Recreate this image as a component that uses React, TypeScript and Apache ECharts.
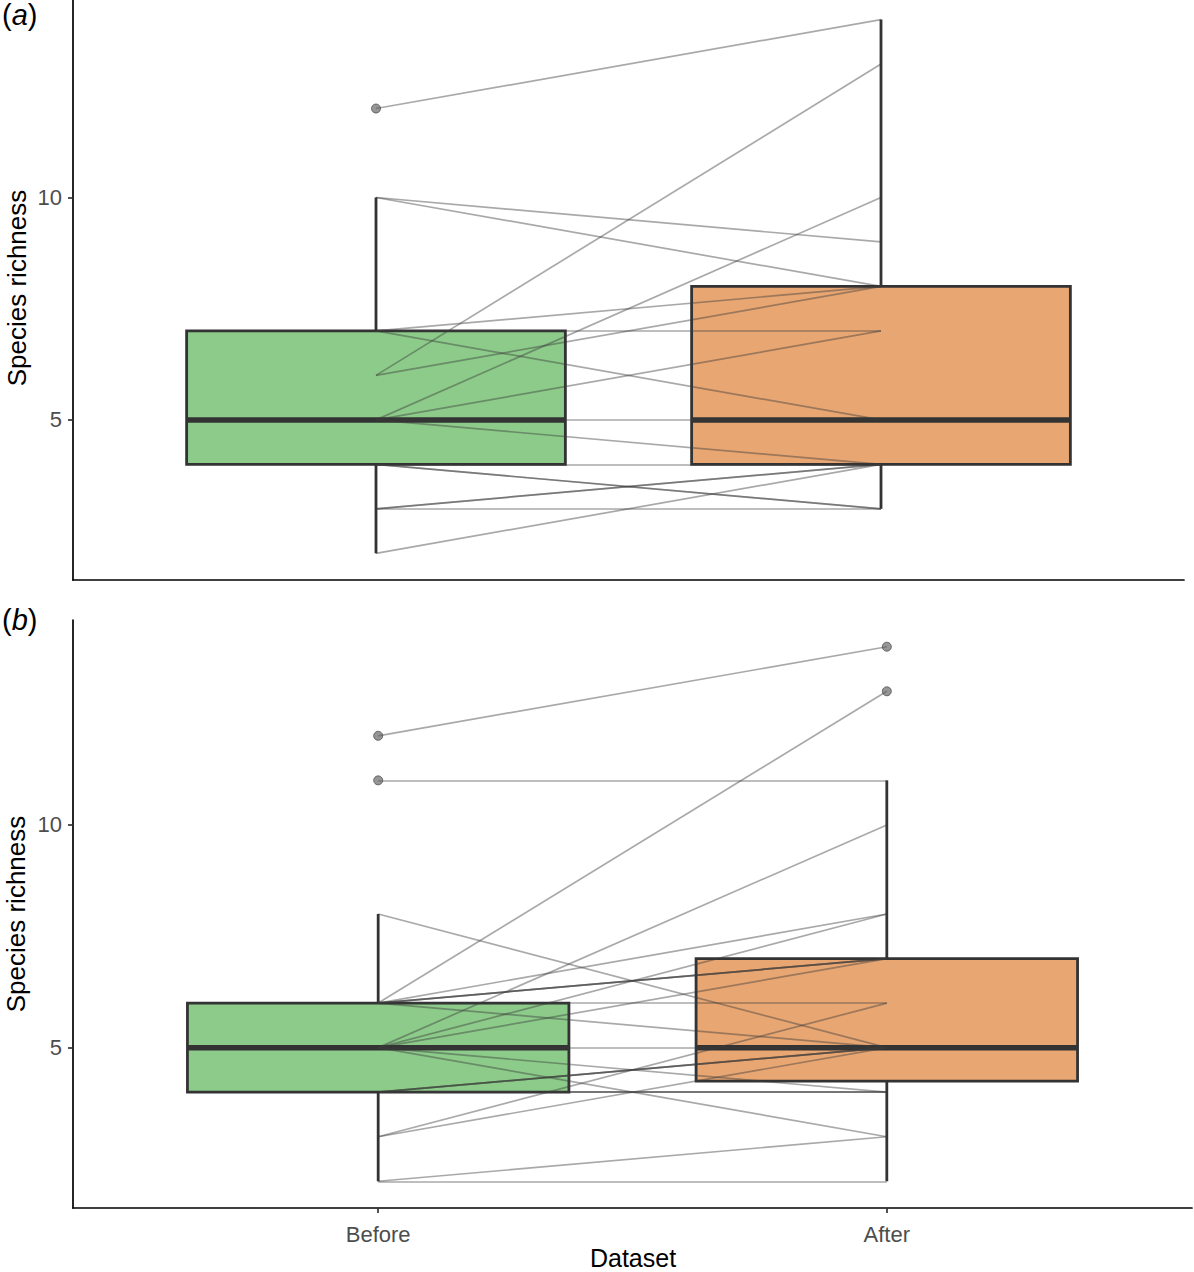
import React, { useEffect, useRef } from "react";
import * as echarts from "echarts";

// ---------- data ----------
const categories = ["Before", "After"];
const yTickValues = [5, 10];
const boxFills = ["#8CCB89", "#E8A672"];

// panel (a): paired species richness, Before -> After
const beforeA = [12, 10, 10, 7, 7, 7, 6, 6, 5, 5, 5, 5, 4, 4, 4, 3, 3, 3, 2];
const afterA = [14, 9, 8, 8, 7, 5, 13, 8, 10, 7, 5, 4, 4, 3, 3, 4, 4, 3, 4];

// panel (b)
const beforeB = [12, 11, 8, 6, 6, 6, 6, 6, 6, 6, 5, 5, 5, 5, 5, 5, 4, 4, 4, 4, 4, 4, 3, 3, 2, 2];
const afterB = [14, 11, 5, 13, 8, 7, 7, 7, 6, 5, 10, 8, 7, 5, 4, 3, 5, 5, 5, 4, 4, 4, 6, 5, 3, 2];

// ---------- helpers ----------
function quantile(sorted: number[], p: number) {
  const h = (sorted.length - 1) * p;
  const lo = Math.floor(h);
  const hi = Math.min(lo + 1, sorted.length - 1);
  return sorted[lo] + (h - lo) * (sorted[hi] - sorted[lo]);
}
function boxStats(vals: number[], x: number) {
  const s = [...vals].sort((a, b) => a - b);
  const q1 = quantile(s, 0.25);
  const med = quantile(s, 0.5);
  const q3 = quantile(s, 0.75);
  const iqr = q3 - q1;
  const inside = s.filter((v) => v >= q1 - 1.5 * iqr && v <= q3 + 1.5 * iqr);
  const lo = inside[0];
  const hi = inside[inside.length - 1];
  const outliers = s.filter((v) => v < q1 - 1.5 * iqr || v > q3 + 1.5 * iqr);
  return { box: [x, lo, q1, med, q3, hi], outliers: outliers.map((v) => [x, v]) };
}

const FONT = "'Liberation Sans', Arial, sans-serif";

function renderBox(params: any, api: any) {
  const x = api.value(0);
  const lo = api.value(1);
  const q1 = api.value(2);
  const med = api.value(3);
  const q3 = api.value(4);
  const hi = api.value(5);
  const hw = 0.375;
  const tl = api.coord([x - hw, q3]);
  const br = api.coord([x + hw, q1]);
  const mL = api.coord([x - hw, med]);
  const mR = api.coord([x + hw, med]);
  const pHi = api.coord([x, hi]);
  const pQ3 = api.coord([x, q3]);
  const pQ1 = api.coord([x, q1]);
  const pLo = api.coord([x, lo]);
  const stroke = "#333333";
  return {
    type: "group",
    children: [
      { type: "line", shape: { x1: pHi[0], y1: pHi[1], x2: pQ3[0], y2: pQ3[1] }, style: { stroke, lineWidth: 2.8 } },
      { type: "line", shape: { x1: pQ1[0], y1: pQ1[1], x2: pLo[0], y2: pLo[1] }, style: { stroke, lineWidth: 2.8 } },
      {
        type: "rect",
        shape: { x: tl[0], y: tl[1], width: br[0] - tl[0], height: br[1] - tl[1] },
        style: { fill: boxFills[params.dataIndex], stroke, lineWidth: 2.8 },
      },
      { type: "line", shape: { x1: mL[0], y1: mL[1], x2: mR[0], y2: mR[1] }, style: { stroke, lineWidth: 5.5 } },
    ],
  };
}

function buildPanel(before: number[], after: number[], idx: number) {
  const sb = boxStats(before, 1);
  const sa = boxStats(after, 2);
  return [
    {
      type: "custom",
      xAxisIndex: idx,
      yAxisIndex: idx,
      renderItem: renderBox,
      encode: { x: 0, y: [1, 2, 3, 4, 5] },
      data: [sb.box, sa.box],
      z: 2,
      silent: true,
    },
    {
      type: "lines",
      coordinateSystem: "cartesian2d",
      xAxisIndex: idx,
      yAxisIndex: idx,
      data: before.map((b, i) => ({ coords: [[1, b], [2, after[i]]] })),
      lineStyle: { color: "rgba(60,60,60,0.44)", width: 1.7, opacity: 1, curveness: 0 },
      z: 3,
      silent: true,
    },
    {
      type: "scatter",
      xAxisIndex: idx,
      yAxisIndex: idx,
      data: [...sb.outliers, ...sa.outliers],
      symbolSize: 9,
      itemStyle: { color: "rgba(90,90,90,0.8)", borderColor: "rgba(60,60,60,0.85)", borderWidth: 1 },
      z: 4,
      silent: true,
    },
  ];
}

function yAxis(idx: number, max: number) {
  return {
    type: "value",
    gridIndex: idx,
    min: 1.4,
    max,
    splitLine: { show: false },
    axisLine: { show: true, lineStyle: { color: "#000", width: 1.7 } },
    axisTick: { show: true, length: 5, customValues: yTickValues, lineStyle: { color: "#333", width: 1.7 } },
    axisLabel: {
      show: true,
      customValues: yTickValues,
      margin: 11,
      color: "#4D4D4D",
      fontSize: 22,
      fontFamily: FONT,
      formatter: (v: number) => String(v),
    },
  };
}

function xAxis(idx: number, showLabels: boolean) {
  return {
    type: "value",
    gridIndex: idx,
    min: 0.4,
    max: 2.6,
    splitLine: { show: false },
    axisLine: { show: true, onZero: false, lineStyle: { color: "#000", width: 1.7 } },
    axisTick: { show: showLabels, length: 5, customValues: [1, 2], lineStyle: { color: "#333", width: 1.7 } },
    axisLabel: {
      show: showLabels,
      customValues: [1, 2],
      margin: 15,
      color: "#4D4D4D",
      fontSize: 22,
      fontFamily: FONT,
      formatter: (v: number) => categories[Math.round(v) - 1] ?? "",
    },
  };
}

function tag(letter: string, y: number) {
  return {
    type: "text",
    left: 2,
    top: y,
    style: {
      text: "{n|(}{i|" + letter + "}{n|)}",
      rich: {
        n: { fontSize: 29, fontFamily: FONT, fill: "#000" },
        i: { fontSize: 29, fontFamily: FONT, fontStyle: "italic", fill: "#000" },
      },
    },
  };
}

function yTitle(cx: number, cy: number) {
  return {
    type: "text",
    x: cx,
    y: cy,
    rotation: Math.PI / 2,
    style: {
      text: "Species richness",
      fontSize: 26,
      fontFamily: FONT,
      fill: "#000",
      textAlign: "center",
      textVerticalAlign: "middle",
    },
  };
}

export default function App() {
  const ref = useRef<HTMLDivElement>(null);
  useEffect(() => {
    if (!ref.current) return;
    const chart = echarts.init(ref.current, undefined, { renderer: "svg" });
    chart.setOption({
      animation: false,
      backgroundColor: "#fff",
      grid: [
        { left: 73, top: 0, width: 1111, height: 580 },
        { left: 73, top: 620, width: 1119, height: 588 },
      ],
      xAxis: [xAxis(0, false), xAxis(1, true)],
      yAxis: [yAxis(0, 14.44), yAxis(1, 14.6)],
      series: [...buildPanel(beforeA, afterA, 0), ...buildPanel(beforeB, afterB, 1)],
      graphic: [
        tag("a", 0),
        tag("b", 605),
        yTitle(17, 288),
        yTitle(16, 914),
        {
          type: "text",
          x: 633,
          y: 1258,
          style: {
            text: "Dataset",
            fontSize: 25,
            fontFamily: FONT,
            fill: "#000",
            textAlign: "center",
            textVerticalAlign: "middle",
          },
        },
      ],
    });
    return () => chart.dispose();
  }, []);
  return (
    <div
      ref={ref}
      style={{ position: "absolute", left: 0, top: 0, width: 1194, height: 1272 }}
    />
  );
}
